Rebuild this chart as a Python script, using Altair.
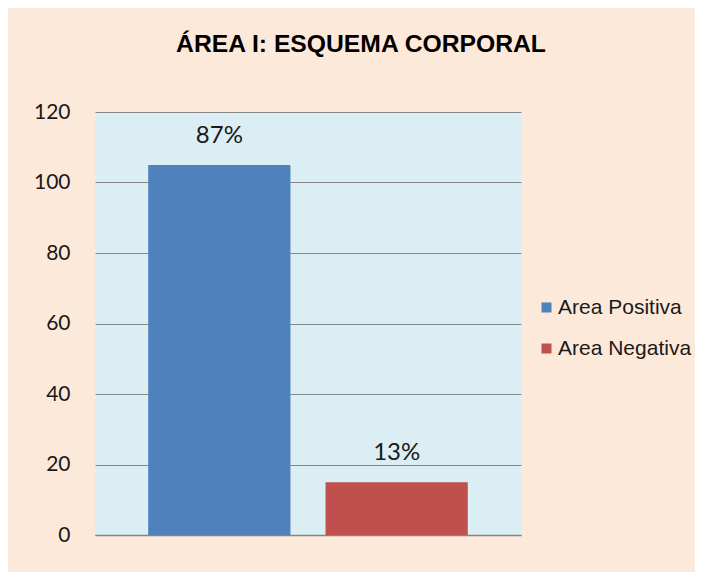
import altair as alt
import pandas as pd

series = ["Area Positiva", "Area Negativa"]
values = [105, 15]
labels = ["87%", "13%"]
colors = ["#4F81BD", "#C0504D"]

df = pd.DataFrame({"serie": series, "valor": values, "etiqueta": labels})

x_enc = alt.X("serie:N", sort=series,
              scale=alt.Scale(paddingInner=0.198, paddingOuter=0.3),
              axis=alt.Axis(labels=False, ticks=False, title=None,
                            domainColor="#868686", domainWidth=1.5))

bars = alt.Chart(df).mark_bar().encode(
    x=x_enc,
    y=alt.Y("valor:Q", scale=alt.Scale(domain=[0, 120]),
            axis=alt.Axis(values=[0, 20, 40, 60, 80, 100, 120], title=None,
                          domain=False, ticks=False, gridColor="#868686",
                          gridWidth=1.2, labelFont="Lato", labelFontSize=21,
                          labelColor="#1a1a1a", labelPadding=25)),
    color=alt.Color("serie:N", sort=series,
                    scale=alt.Scale(domain=series, range=colors),
                    legend=alt.Legend(title=None, orient="none", legendX=441,
                                      legendY=185, symbolType="square",
                                      symbolSize=100, labelFont="Liberation Sans",
                                      labelFontSize=21, labelColor="#1a1a1a",
                                      rowPadding=19, symbolStrokeWidth=0,
                                      labelOffset=1)),
)

text = alt.Chart(df).mark_text(baseline="bottom", dy=-17, font="Lato",
                               fontSize=24, color="#1a1a1a").encode(
    x=alt.X("serie:N", sort=series),
    y="valor:Q",
    text="etiqueta:N",
)

chart = (bars + text).properties(
    width=426, height=423,
    title=alt.TitleParams("ÁREA I: ESQUEMA CORPORAL", font="Liberation Sans",
                          fontSize=24.7, fontWeight="bold", color="#000000",
                          anchor="middle", dx=53, offset=44),
    background="#FDE9D9",
    padding={"left": 87, "top": 104, "right": 174, "bottom": 37},
    autosize=alt.AutoSizeParams(type="none"),
).configure_view(fill="#DBEEF4", stroke=None)

chart.save("out.html", embed_options={"renderer": "svg", "actions": False})
